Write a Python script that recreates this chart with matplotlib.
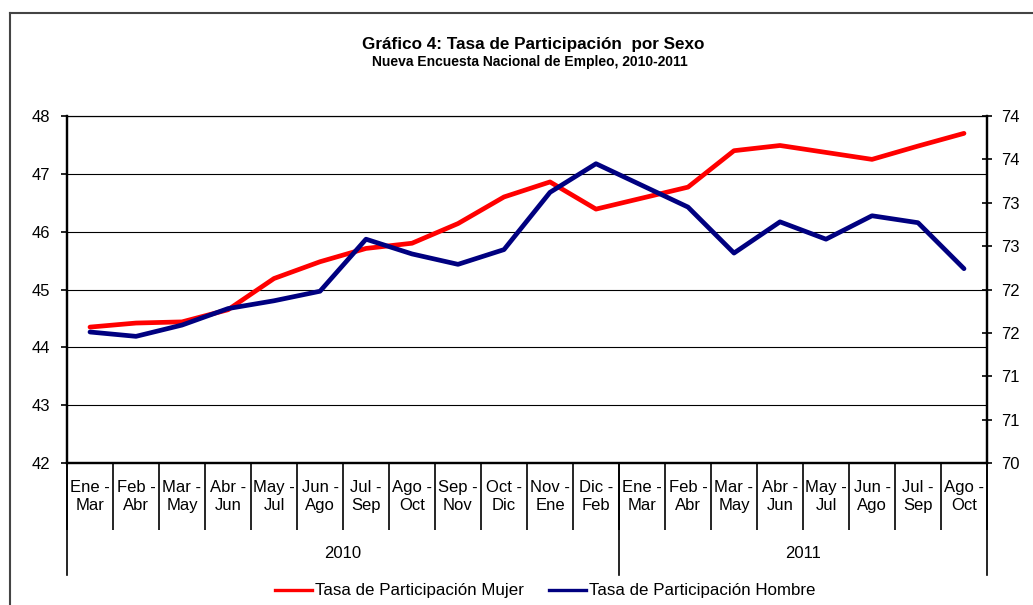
import math
import matplotlib
matplotlib.use("Agg")
import matplotlib.pyplot as plt
from matplotlib.ticker import FixedLocator, FuncFormatter
from matplotlib.lines import Line2D

plt.rcParams['font.family'] = ['Liberation Sans', 'DejaVu Sans']

categories = ["Ene -\nMar", "Feb -\nAbr", "Mar -\nMay", "Abr -\nJun", "May -\nJul",
              "Jun -\nAgo", "Jul -\nSep", "Ago -\nOct", "Sep -\nNov", "Oct -\nDic",
              "Nov -\nEne", "Dic -\nFeb", "Ene -\nMar", "Feb -\nAbr", "Mar -\nMay",
              "Abr -\nJun", "May -\nJul", "Jun -\nAgo", "Jul -\nSep", "Ago -\nOct"]
years = ["2010", "2011"]
year_counts = [12, 8]

mujer = [44.35, 44.42, 44.44, 44.65, 45.19, 45.48, 45.71, 45.80, 46.14, 46.60,
         46.86, 46.39, 46.58, 46.77, 47.40, 47.49, 47.37, 47.25, 47.48, 47.70]
hombre = [71.51, 71.46, 71.59, 71.78, 71.87, 71.98, 72.58, 72.41, 72.29, 72.46,
          73.12, 73.45, 73.20, 72.95, 72.42, 72.78, 72.58, 72.85, 72.77, 72.24]

W, H = 1033, 605
fig = plt.figure(figsize=(W / 100, H / 100), dpi=100)
ax = fig.add_axes([67 / W, 1 - 463 / H, (987 - 67) / W, (463 - 116) / H])
ax2 = ax.twinx()

x = list(range(len(categories)))
ax.plot(x, mujer, color='#FF0000', lw=3.4, solid_capstyle='round', zorder=3)
ax2.plot(x, hombre, color='#000080', lw=3.4, solid_capstyle='round', zorder=3)

ax.set_xlim(-0.5, len(categories) - 0.5)
ax.set_ylim(42, 48)
ax2.set_ylim(70, 74)

ax.set_yticks(range(42, 49))
ax.yaxis.grid(True, color='black', lw=0.8)
ax.tick_params(axis='y', direction='out', length=4, width=1.2, labelsize=12, pad=8)

ax2.yaxis.set_major_locator(FixedLocator([70 + 0.5 * i for i in range(9)]))
ax2.yaxis.set_major_formatter(FuncFormatter(lambda v, p: f"{int(math.floor(v + 0.5))}"))
ax2.tick_params(axis='y', direction='inout', length=7, width=1.2, labelsize=12, pad=7)

ax.set_xticks(x)
ax.set_xticklabels(categories, fontsize=12, linespacing=1.25)
ax.tick_params(axis='x', which='major', length=0, pad=12)
ax.set_xticks([i - 0.5 for i in range(len(categories) + 1)], minor=True)
ax.tick_params(axis='x', which='minor', direction='out', length=48, width=1.2, color='black')

for s in ['left', 'right', 'bottom']:
    ax.spines[s].set_linewidth(1.6)
    ax2.spines[s].set_linewidth(1.6)
ax.spines['top'].set_linewidth(0.8)
ax2.spines['top'].set_linewidth(0.8)

# year separators and labels
tr = ax.get_xaxis_transform()
bounds = [-0.5]
for c in year_counts:
    bounds.append(bounds[-1] + c)
for b in bounds:
    ax.plot([b, b], [0, -0.323], transform=tr, color='black', lw=1.2, clip_on=False)
for i, yname in enumerate(years):
    ax.text((bounds[i] + bounds[i + 1]) / 2, -0.262, yname, transform=tr,
            ha='center', va='center', fontsize=12)

# titles
fig.text(533 / W, 1 - 45 / H, "Gráfico 4: Tasa de Participación  por Sexo",
         ha='center', va='center', fontsize=12.3, fontweight='bold')
fig.text(530 / W, 1 - 62 / H, "Nueva Encuesta Nacional de Empleo, 2010-2011",
         ha='center', va='center', fontsize=10, fontweight='bold')

# legend
handles = [Line2D([], [], color='#FF0000', lw=2.4), Line2D([], [], color='#000080', lw=2.4)]
fig.legend(handles, ["Tasa de Participación Mujer", "Tasa de Participación Hombre"],
           loc='center', bbox_to_anchor=(545 / W, 1 - 591 / H), ncol=2, frameon=False,
           fontsize=12.2, handlelength=2.2, handletextpad=0.15, columnspacing=1.5)

# outer chart border (top and left)
fig.add_artist(Line2D([10 / W, 10 / W], [0, 1 - 13 / H], transform=fig.transFigure,
                      color='#444444', lw=1.5))
fig.add_artist(Line2D([10 / W, 1], [1 - 13 / H, 1 - 13 / H], transform=fig.transFigure,
                      color='#444444', lw=1.5))

fig.savefig("out.png", dpi=100)
